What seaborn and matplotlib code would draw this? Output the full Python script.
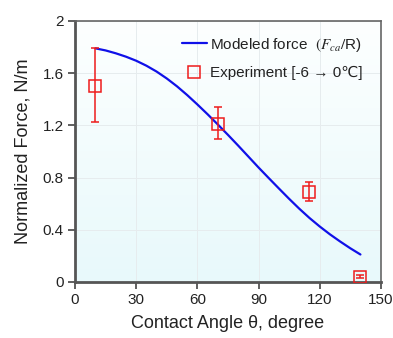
import numpy as np
import pandas as pd
import matplotlib
matplotlib.use("Agg")
import matplotlib.pyplot as plt
from matplotlib import font_manager
from matplotlib.colors import LinearSegmentedColormap
from matplotlib.lines import Line2D
import seaborn as sns

# ---- data ----
model_angle = [10, 15, 20, 25, 30, 35, 40, 45, 50, 55, 60, 65, 70, 75, 80, 85, 90,
               95, 100, 105, 110, 115, 120, 125, 130, 135, 140]
model_force = [1.790, 1.774, 1.752, 1.726, 1.695, 1.657, 1.612, 1.559, 1.499, 1.432,
               1.360, 1.285, 1.207, 1.127, 1.045, 0.961, 0.877, 0.796, 0.716, 0.637,
               0.561, 0.490, 0.425, 0.365, 0.310, 0.258, 0.210]

exp_angle = [10, 70, 115, 140]
exp_force = [1.504, 1.211, 0.69, 0.04]
exp_lower = [1.228, 1.093, 0.623, 0.03]
exp_upper = [1.79, 1.34, 0.764, 0.05]

xticks = [0, 30, 60, 90, 120, 150]
yticks = [0, 0.4, 0.8, 1.2, 1.6, 2]
ytick_labels = ["0", "0.4", "0.8", "1.2", "1.6", "2"]

model_label = "Modeled force  $(F_{ca}/$R)"
exp_label = "Experiment [-6 \u2192 0\u2103]"

sns.set_theme(style="white")
names = {f.name for f in font_manager.fontManager.ttflist}
fam = "Liberation Sans Narrow" if "Liberation Sans Narrow" in names else "Liberation Sans"
plt.rcParams["font.family"] = [fam, "DejaVu Sans"]
plt.rcParams["mathtext.fontset"] = "stix"

fig = plt.figure(figsize=(3.93, 3.38), dpi=100)
ax = fig.add_axes([0.191, 0.166, 0.778, 0.772])

# background gradient
cmap = LinearSegmentedColormap.from_list("bg", ["#fdffff", "#e8f9fb"])
grad = np.linspace(0, 1, 256).reshape(-1, 1)
ax.imshow(grad, extent=[0, 1, 0, 1], transform=ax.transAxes, cmap=cmap,
          aspect="auto", zorder=0, origin="upper")

red = "#ee1c1c"
blue = "#1010e8"

df_model = pd.DataFrame({"angle": model_angle, "force": model_force})
sns.lineplot(data=df_model, x="angle", y="force", ax=ax, color=blue, lw=1.6,
             zorder=3, legend=False)

yerr = [np.array(exp_force) - np.array(exp_lower), np.array(exp_upper) - np.array(exp_force)]
ax.errorbar(exp_angle, exp_force, yerr=yerr, fmt="s", ms=8, mfc="none", mec=red,
            mew=1.1, ecolor=red, elinewidth=1.1, capsize=3, capthick=1.1, zorder=4)

ax.set_xlim(0, 150)
ax.set_ylim(0, 2)
ax.set_xticks(xticks)
ax.set_yticks(yticks)
ax.set_yticklabels(ytick_labels)
ax.grid(True, color="#e6ecee", lw=0.7)
ax.set_axisbelow(True)

ax.tick_params(axis="both", which="major", direction="out", length=5, width=1.2,
               color="#444444", labelsize=11, labelcolor="#222222", pad=3,
               bottom=True, left=True)
for s in ["left", "bottom"]:
    ax.spines[s].set_color("#555555")
    ax.spines[s].set_linewidth(2.0)
for s in ["top", "right"]:
    ax.spines[s].set_color("#666666")
    ax.spines[s].set_linewidth(1.2)

ax.set_xlabel("Contact Angle \u03b8, degree", fontsize=13, color="#222222", labelpad=6)
ax.set_ylabel("Normalized Force, N/m", fontsize=13, color="#222222", labelpad=8)

handles = [Line2D([], [], color=blue, lw=1.6),
           Line2D([], [], ls="none", marker="s", ms=8, mfc="none", mec=red, mew=1.1)]
leg = ax.legend(handles, [model_label, exp_label], loc="upper left",
                bbox_to_anchor=(0.35, 0.943), frameon=False, fontsize=11,
                labelspacing=0.8, handlelength=1.6, handletextpad=0.25,
                borderaxespad=0.0, borderpad=0.0)
for t in leg.get_texts():
    t.set_color("#222222")

fig.savefig("out.png", dpi=100)
